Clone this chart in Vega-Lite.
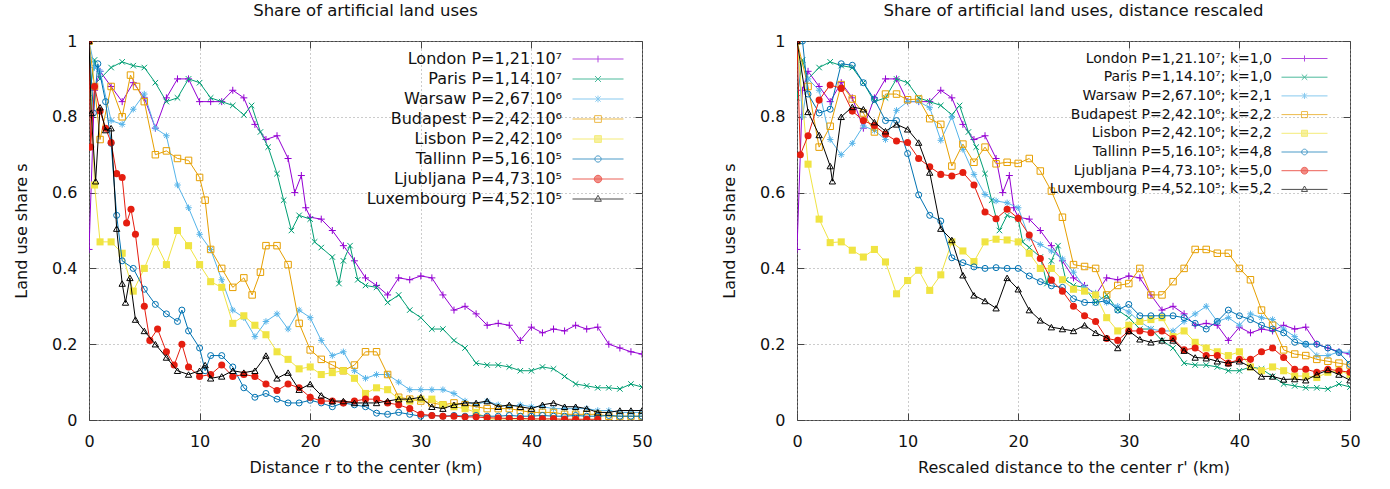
{
"$schema":"https://vega.github.io/schema/vega-lite/v6.json",
"padding":{"left":13,"top":2,"right":0,"bottom":0},
"spacing":68,
"datasets":{"d":[
{"p":"L","c":"Lon","x":0,"y":0.45},{"p":"L","c":"Lon","x":0.5,"y":0.87},{"p":"L","c":"Lon","x":1,"y":0.92},{"p":"L","c":"Lon","x":2,"y":0.88},{"p":"L","c":"Lon","x":3,"y":0.84},{"p":"L","c":"Lon","x":4,"y":0.89},{"p":"L","c":"Lon","x":5,"y":0.85},{"p":"L","c":"Lon","x":6,"y":0.77},{"p":"L","c":"Lon","x":7,"y":0.85},{"p":"L","c":"Lon","x":8,"y":0.9},{"p":"L","c":"Lon","x":9,"y":0.9},{"p":"L","c":"Lon","x":10,"y":0.84},{"p":"L","c":"Lon","x":11,"y":0.84},{"p":"L","c":"Lon","x":12,"y":0.84},{"p":"L","c":"Lon","x":13,"y":0.87},{"p":"L","c":"Lon","x":14,"y":0.85},{"p":"L","c":"Lon","x":15,"y":0.78},{"p":"L","c":"Lon","x":16,"y":0.74},{"p":"L","c":"Lon","x":17,"y":0.75},{"p":"L","c":"Lon","x":18,"y":0.69},{"p":"L","c":"Lon","x":18.6,"y":0.6},{"p":"L","c":"Lon","x":19.2,"y":0.645},{"p":"L","c":"Lon","x":19.6,"y":0.56},{"p":"L","c":"Lon","x":20,"y":0.535},{"p":"L","c":"Lon","x":21,"y":0.53},{"p":"L","c":"Lon","x":22,"y":0.5},{"p":"L","c":"Lon","x":23,"y":0.46},{"p":"L","c":"Lon","x":24,"y":0.42},{"p":"L","c":"Lon","x":25,"y":0.375},{"p":"L","c":"Lon","x":26,"y":0.355},{"p":"L","c":"Lon","x":27,"y":0.33},{"p":"L","c":"Lon","x":28,"y":0.375},{"p":"L","c":"Lon","x":29,"y":0.37},{"p":"L","c":"Lon","x":30,"y":0.38},{"p":"L","c":"Lon","x":31,"y":0.375},{"p":"L","c":"Lon","x":32,"y":0.33},{"p":"L","c":"Lon","x":33,"y":0.29},{"p":"L","c":"Lon","x":34,"y":0.3},{"p":"L","c":"Lon","x":35,"y":0.28},{"p":"L","c":"Lon","x":36,"y":0.25},{"p":"L","c":"Lon","x":37,"y":0.255},{"p":"L","c":"Lon","x":38,"y":0.25},{"p":"L","c":"Lon","x":39,"y":0.21},{"p":"L","c":"Lon","x":40,"y":0.245},{"p":"L","c":"Lon","x":41,"y":0.23},{"p":"L","c":"Lon","x":42,"y":0.24},{"p":"L","c":"Lon","x":43,"y":0.235},{"p":"L","c":"Lon","x":44,"y":0.25},{"p":"L","c":"Lon","x":45,"y":0.24},{"p":"L","c":"Lon","x":46,"y":0.245},{"p":"L","c":"Lon","x":47,"y":0.2},{"p":"L","c":"Lon","x":48,"y":0.19},{"p":"L","c":"Lon","x":49,"y":0.18},{"p":"L","c":"Lon","x":50,"y":0.174},
{"p":"L","c":"Par","x":0,"y":0.85},{"p":"L","c":"Par","x":0.5,"y":0.95},{"p":"L","c":"Par","x":1,"y":0.9},{"p":"L","c":"Par","x":2,"y":0.93},{"p":"L","c":"Par","x":3,"y":0.945},{"p":"L","c":"Par","x":4,"y":0.935},{"p":"L","c":"Par","x":5,"y":0.93},{"p":"L","c":"Par","x":6,"y":0.89},{"p":"L","c":"Par","x":7,"y":0.84},{"p":"L","c":"Par","x":8,"y":0.85},{"p":"L","c":"Par","x":9,"y":0.9},{"p":"L","c":"Par","x":10,"y":0.89},{"p":"L","c":"Par","x":11,"y":0.85},{"p":"L","c":"Par","x":12,"y":0.84},{"p":"L","c":"Par","x":13,"y":0.83},{"p":"L","c":"Par","x":14,"y":0.805},{"p":"L","c":"Par","x":14.7,"y":0.83},{"p":"L","c":"Par","x":15.5,"y":0.76},{"p":"L","c":"Par","x":16.2,"y":0.72},{"p":"L","c":"Par","x":17,"y":0.65},{"p":"L","c":"Par","x":17.6,"y":0.58},{"p":"L","c":"Par","x":18.3,"y":0.5},{"p":"L","c":"Par","x":19,"y":0.54},{"p":"L","c":"Par","x":20,"y":0.53},{"p":"L","c":"Par","x":20.4,"y":0.47},{"p":"L","c":"Par","x":21,"y":0.455},{"p":"L","c":"Par","x":22,"y":0.43},{"p":"L","c":"Par","x":22.6,"y":0.36},{"p":"L","c":"Par","x":23,"y":0.42},{"p":"L","c":"Par","x":23.6,"y":0.46},{"p":"L","c":"Par","x":24.3,"y":0.37},{"p":"L","c":"Par","x":25,"y":0.355},{"p":"L","c":"Par","x":26,"y":0.35},{"p":"L","c":"Par","x":27,"y":0.31},{"p":"L","c":"Par","x":28,"y":0.33},{"p":"L","c":"Par","x":29,"y":0.29},{"p":"L","c":"Par","x":30,"y":0.27},{"p":"L","c":"Par","x":31,"y":0.24},{"p":"L","c":"Par","x":32,"y":0.24},{"p":"L","c":"Par","x":33,"y":0.21},{"p":"L","c":"Par","x":34,"y":0.19},{"p":"L","c":"Par","x":35,"y":0.15},{"p":"L","c":"Par","x":36,"y":0.145},{"p":"L","c":"Par","x":37,"y":0.145},{"p":"L","c":"Par","x":38,"y":0.14},{"p":"L","c":"Par","x":39,"y":0.13},{"p":"L","c":"Par","x":40,"y":0.13},{"p":"L","c":"Par","x":41,"y":0.14},{"p":"L","c":"Par","x":42,"y":0.135},{"p":"L","c":"Par","x":43,"y":0.115},{"p":"L","c":"Par","x":44,"y":0.095},{"p":"L","c":"Par","x":45,"y":0.09},{"p":"L","c":"Par","x":46,"y":0.085},{"p":"L","c":"Par","x":47,"y":0.085},{"p":"L","c":"Par","x":48,"y":0.082},{"p":"L","c":"Par","x":49,"y":0.095},{"p":"L","c":"Par","x":50,"y":0.087},
{"p":"L","c":"War","x":0,"y":1},{"p":"L","c":"War","x":0.5,"y":0.93},{"p":"L","c":"War","x":1,"y":0.92},{"p":"L","c":"War","x":2,"y":0.79},{"p":"L","c":"War","x":3,"y":0.78},{"p":"L","c":"War","x":4,"y":0.82},{"p":"L","c":"War","x":5,"y":0.86},{"p":"L","c":"War","x":6,"y":0.77},{"p":"L","c":"War","x":7,"y":0.75},{"p":"L","c":"War","x":8,"y":0.62},{"p":"L","c":"War","x":9,"y":0.56},{"p":"L","c":"War","x":10,"y":0.49},{"p":"L","c":"War","x":11,"y":0.45},{"p":"L","c":"War","x":12,"y":0.37},{"p":"L","c":"War","x":13,"y":0.29},{"p":"L","c":"War","x":14,"y":0.27},{"p":"L","c":"War","x":15,"y":0.22},{"p":"L","c":"War","x":16,"y":0.26},{"p":"L","c":"War","x":17,"y":0.28},{"p":"L","c":"War","x":18,"y":0.24},{"p":"L","c":"War","x":19,"y":0.29},{"p":"L","c":"War","x":20,"y":0.27},{"p":"L","c":"War","x":21,"y":0.21},{"p":"L","c":"War","x":22,"y":0.17},{"p":"L","c":"War","x":23,"y":0.18},{"p":"L","c":"War","x":24,"y":0.13},{"p":"L","c":"War","x":25,"y":0.11},{"p":"L","c":"War","x":26,"y":0.12},{"p":"L","c":"War","x":27,"y":0.12},{"p":"L","c":"War","x":28,"y":0.1},{"p":"L","c":"War","x":29,"y":0.08},{"p":"L","c":"War","x":30,"y":0.08},{"p":"L","c":"War","x":31,"y":0.08},{"p":"L","c":"War","x":32,"y":0.08},{"p":"L","c":"War","x":33,"y":0.07},{"p":"L","c":"War","x":34,"y":0.05},{"p":"L","c":"War","x":35,"y":0.04},{"p":"L","c":"War","x":36,"y":0.05},{"p":"L","c":"War","x":37,"y":0.04},{"p":"L","c":"War","x":38,"y":0.035},{"p":"L","c":"War","x":39,"y":0.04},{"p":"L","c":"War","x":40,"y":0.035},{"p":"L","c":"War","x":41,"y":0.035},{"p":"L","c":"War","x":42,"y":0.03},{"p":"L","c":"War","x":43,"y":0.03},{"p":"L","c":"War","x":44,"y":0.03},{"p":"L","c":"War","x":45,"y":0.03},{"p":"L","c":"War","x":46,"y":0.025},{"p":"L","c":"War","x":47,"y":0.025},{"p":"L","c":"War","x":48,"y":0.02},{"p":"L","c":"War","x":49,"y":0.02},{"p":"L","c":"War","x":50,"y":0.02},
{"p":"L","c":"Bud","x":0,"y":1},{"p":"L","c":"Bud","x":0.5,"y":0.88},{"p":"L","c":"Bud","x":1,"y":0.74},{"p":"L","c":"Bud","x":2,"y":0.88},{"p":"L","c":"Bud","x":3,"y":0.8},{"p":"L","c":"Bud","x":3.75,"y":0.91},{"p":"L","c":"Bud","x":4.3,"y":0.88},{"p":"L","c":"Bud","x":5,"y":0.84},{"p":"L","c":"Bud","x":6,"y":0.7},{"p":"L","c":"Bud","x":7,"y":0.71},{"p":"L","c":"Bud","x":8,"y":0.69},{"p":"L","c":"Bud","x":9,"y":0.685},{"p":"L","c":"Bud","x":10,"y":0.64},{"p":"L","c":"Bud","x":10.5,"y":0.58},{"p":"L","c":"Bud","x":11,"y":0.45},{"p":"L","c":"Bud","x":12,"y":0.4},{"p":"L","c":"Bud","x":13,"y":0.35},{"p":"L","c":"Bud","x":14,"y":0.375},{"p":"L","c":"Bud","x":14.75,"y":0.33},{"p":"L","c":"Bud","x":15.5,"y":0.39},{"p":"L","c":"Bud","x":16,"y":0.46},{"p":"L","c":"Bud","x":17,"y":0.46},{"p":"L","c":"Bud","x":18,"y":0.41},{"p":"L","c":"Bud","x":19,"y":0.255},{"p":"L","c":"Bud","x":20,"y":0.185},{"p":"L","c":"Bud","x":21,"y":0.16},{"p":"L","c":"Bud","x":22,"y":0.145},{"p":"L","c":"Bud","x":23,"y":0.13},{"p":"L","c":"Bud","x":24,"y":0.145},{"p":"L","c":"Bud","x":25,"y":0.18},{"p":"L","c":"Bud","x":26,"y":0.18},{"p":"L","c":"Bud","x":27,"y":0.12},{"p":"L","c":"Bud","x":28,"y":0.06},{"p":"L","c":"Bud","x":29,"y":0.055},{"p":"L","c":"Bud","x":30,"y":0.05},{"p":"L","c":"Bud","x":31,"y":0.045},{"p":"L","c":"Bud","x":32,"y":0.04},{"p":"L","c":"Bud","x":33,"y":0.045},{"p":"L","c":"Bud","x":34,"y":0.04},{"p":"L","c":"Bud","x":35,"y":0.035},{"p":"L","c":"Bud","x":36,"y":0.03},{"p":"L","c":"Bud","x":37,"y":0.03},{"p":"L","c":"Bud","x":38,"y":0.03},{"p":"L","c":"Bud","x":39,"y":0.025},{"p":"L","c":"Bud","x":40,"y":0.02},{"p":"L","c":"Bud","x":41,"y":0.02},{"p":"L","c":"Bud","x":42,"y":0.02},{"p":"L","c":"Bud","x":43,"y":0.015},{"p":"L","c":"Bud","x":44,"y":0.015},{"p":"L","c":"Bud","x":45,"y":0.015},{"p":"L","c":"Bud","x":46,"y":0.015},{"p":"L","c":"Bud","x":47,"y":0.01},{"p":"L","c":"Bud","x":48,"y":0.01},{"p":"L","c":"Bud","x":49,"y":0.01},{"p":"L","c":"Bud","x":50,"y":0.01},
{"p":"L","c":"Lis","x":0,"y":1},{"p":"L","c":"Lis","x":0.5,"y":0.62},{"p":"L","c":"Lis","x":1,"y":0.47},{"p":"L","c":"Lis","x":2,"y":0.47},{"p":"L","c":"Lis","x":3,"y":0.44},{"p":"L","c":"Lis","x":4,"y":0.34},{"p":"L","c":"Lis","x":5,"y":0.4},{"p":"L","c":"Lis","x":6,"y":0.47},{"p":"L","c":"Lis","x":7,"y":0.41},{"p":"L","c":"Lis","x":8,"y":0.5},{"p":"L","c":"Lis","x":9,"y":0.46},{"p":"L","c":"Lis","x":10,"y":0.41},{"p":"L","c":"Lis","x":11,"y":0.365},{"p":"L","c":"Lis","x":12,"y":0.35},{"p":"L","c":"Lis","x":13,"y":0.255},{"p":"L","c":"Lis","x":14,"y":0.275},{"p":"L","c":"Lis","x":15,"y":0.25},{"p":"L","c":"Lis","x":16,"y":0.225},{"p":"L","c":"Lis","x":17,"y":0.18},{"p":"L","c":"Lis","x":18,"y":0.16},{"p":"L","c":"Lis","x":19,"y":0.135},{"p":"L","c":"Lis","x":20,"y":0.14},{"p":"L","c":"Lis","x":21,"y":0.12},{"p":"L","c":"Lis","x":22,"y":0.125},{"p":"L","c":"Lis","x":23,"y":0.13},{"p":"L","c":"Lis","x":24,"y":0.11},{"p":"L","c":"Lis","x":25,"y":0.07},{"p":"L","c":"Lis","x":26,"y":0.085},{"p":"L","c":"Lis","x":27,"y":0.08},{"p":"L","c":"Lis","x":28,"y":0.055},{"p":"L","c":"Lis","x":29,"y":0.05},{"p":"L","c":"Lis","x":30,"y":0.055},{"p":"L","c":"Lis","x":31,"y":0.055},{"p":"L","c":"Lis","x":32,"y":0.04},{"p":"L","c":"Lis","x":33,"y":0.035},{"p":"L","c":"Lis","x":34,"y":0.03},{"p":"L","c":"Lis","x":35,"y":0.02},{"p":"L","c":"Lis","x":36,"y":0.005},{"p":"L","c":"Lis","x":37,"y":0},{"p":"L","c":"Lis","x":38,"y":0},{"p":"L","c":"Lis","x":39,"y":0},{"p":"L","c":"Lis","x":40,"y":0},{"p":"L","c":"Lis","x":41,"y":0},{"p":"L","c":"Lis","x":42,"y":0},{"p":"L","c":"Lis","x":43,"y":0},{"p":"L","c":"Lis","x":44,"y":0},{"p":"L","c":"Lis","x":45,"y":0},{"p":"L","c":"Lis","x":46,"y":0},
{"p":"L","c":"Tal","x":0,"y":1},{"p":"L","c":"Tal","x":0.4,"y":0.81},{"p":"L","c":"Tal","x":0.8,"y":0.94},{"p":"L","c":"Tal","x":1.5,"y":0.84},{"p":"L","c":"Tal","x":2,"y":0.73},{"p":"L","c":"Tal","x":2.5,"y":0.54},{"p":"L","c":"Tal","x":3,"y":0.42},{"p":"L","c":"Tal","x":4,"y":0.4},{"p":"L","c":"Tal","x":5,"y":0.345},{"p":"L","c":"Tal","x":6,"y":0.305},{"p":"L","c":"Tal","x":7,"y":0.28},{"p":"L","c":"Tal","x":8,"y":0.26},{"p":"L","c":"Tal","x":8.4,"y":0.29},{"p":"L","c":"Tal","x":9,"y":0.235},{"p":"L","c":"Tal","x":10,"y":0.19},{"p":"L","c":"Tal","x":10.5,"y":0.13},{"p":"L","c":"Tal","x":11,"y":0.17},{"p":"L","c":"Tal","x":12,"y":0.17},{"p":"L","c":"Tal","x":13,"y":0.14},{"p":"L","c":"Tal","x":14,"y":0.085},{"p":"L","c":"Tal","x":15,"y":0.06},{"p":"L","c":"Tal","x":16,"y":0.07},{"p":"L","c":"Tal","x":17,"y":0.055},{"p":"L","c":"Tal","x":18,"y":0.045},{"p":"L","c":"Tal","x":19,"y":0.045},{"p":"L","c":"Tal","x":20,"y":0.052},{"p":"L","c":"Tal","x":21,"y":0.045},{"p":"L","c":"Tal","x":22,"y":0.035},{"p":"L","c":"Tal","x":23,"y":0.045},{"p":"L","c":"Tal","x":24,"y":0.04},{"p":"L","c":"Tal","x":25,"y":0.035},{"p":"L","c":"Tal","x":26,"y":0.018},{"p":"L","c":"Tal","x":27,"y":0.015},{"p":"L","c":"Tal","x":28,"y":0.02},{"p":"L","c":"Tal","x":29,"y":0.015},{"p":"L","c":"Tal","x":30,"y":0.01},{"p":"L","c":"Tal","x":31,"y":0.012},{"p":"L","c":"Tal","x":32,"y":0.01},{"p":"L","c":"Tal","x":33,"y":0.012},{"p":"L","c":"Tal","x":34,"y":0.01},{"p":"L","c":"Tal","x":35,"y":0.012},{"p":"L","c":"Tal","x":36,"y":0.01},{"p":"L","c":"Tal","x":37,"y":0.01},{"p":"L","c":"Tal","x":38,"y":0.012},{"p":"L","c":"Tal","x":39,"y":0.01},{"p":"L","c":"Tal","x":40,"y":0.01},{"p":"L","c":"Tal","x":41,"y":0.012},{"p":"L","c":"Tal","x":42,"y":0.01},{"p":"L","c":"Tal","x":43,"y":0.01},{"p":"L","c":"Tal","x":44,"y":0.012},{"p":"L","c":"Tal","x":45,"y":0.01},{"p":"L","c":"Tal","x":46,"y":0.01},{"p":"L","c":"Tal","x":47,"y":0.012},{"p":"L","c":"Tal","x":48,"y":0.01},{"p":"L","c":"Tal","x":49,"y":0.01},{"p":"L","c":"Tal","x":50,"y":0.01},
{"p":"L","c":"Lju","x":0,"y":1},{"p":"L","c":"Lju","x":0.15,"y":0.72},{"p":"L","c":"Lju","x":0.5,"y":0.88},{"p":"L","c":"Lju","x":1,"y":0.815},{"p":"L","c":"Lju","x":1.5,"y":0.77},{"p":"L","c":"Lju","x":2,"y":0.732},{"p":"L","c":"Lju","x":2.5,"y":0.65},{"p":"L","c":"Lju","x":3,"y":0.64},{"p":"L","c":"Lju","x":3.4,"y":0.52},{"p":"L","c":"Lju","x":3.8,"y":0.556},{"p":"L","c":"Lju","x":4.2,"y":0.49},{"p":"L","c":"Lju","x":5,"y":0.3},{"p":"L","c":"Lju","x":5.5,"y":0.21},{"p":"L","c":"Lju","x":6.2,"y":0.24},{"p":"L","c":"Lju","x":7,"y":0.18},{"p":"L","c":"Lju","x":7.7,"y":0.145},{"p":"L","c":"Lju","x":8.4,"y":0.2},{"p":"L","c":"Lju","x":9,"y":0.14},{"p":"L","c":"Lju","x":10,"y":0.115},{"p":"L","c":"Lju","x":11,"y":0.12},{"p":"L","c":"Lju","x":12,"y":0.145},{"p":"L","c":"Lju","x":13,"y":0.115},{"p":"L","c":"Lju","x":14,"y":0.12},{"p":"L","c":"Lju","x":15,"y":0.115},{"p":"L","c":"Lju","x":16,"y":0.095},{"p":"L","c":"Lju","x":17,"y":0.078},{"p":"L","c":"Lju","x":18,"y":0.095},{"p":"L","c":"Lju","x":19,"y":0.085},{"p":"L","c":"Lju","x":20,"y":0.06},{"p":"L","c":"Lju","x":21,"y":0.05},{"p":"L","c":"Lju","x":22,"y":0.05},{"p":"L","c":"Lju","x":23,"y":0.045},{"p":"L","c":"Lju","x":24,"y":0.05},{"p":"L","c":"Lju","x":25,"y":0.055},{"p":"L","c":"Lju","x":26,"y":0.055},{"p":"L","c":"Lju","x":27,"y":0.045},{"p":"L","c":"Lju","x":28,"y":0.04},{"p":"L","c":"Lju","x":29,"y":0.03},{"p":"L","c":"Lju","x":30,"y":0.015},{"p":"L","c":"Lju","x":31,"y":0.012},{"p":"L","c":"Lju","x":32,"y":0.01},{"p":"L","c":"Lju","x":33,"y":0.01},{"p":"L","c":"Lju","x":34,"y":0.008},{"p":"L","c":"Lju","x":35,"y":0.008},{"p":"L","c":"Lju","x":36,"y":0.006},{"p":"L","c":"Lju","x":37,"y":0.005},{"p":"L","c":"Lju","x":38,"y":0.004},{"p":"L","c":"Lju","x":39,"y":0.004},{"p":"L","c":"Lju","x":40,"y":0.003},{"p":"L","c":"Lju","x":41,"y":0.003},{"p":"L","c":"Lju","x":42,"y":0.003},{"p":"L","c":"Lju","x":43,"y":0.002},{"p":"L","c":"Lju","x":44,"y":0.002},{"p":"L","c":"Lju","x":45,"y":0.002},{"p":"L","c":"Lju","x":46,"y":0.002},
{"p":"L","c":"Lux","x":0,"y":1},{"p":"L","c":"Lux","x":0.2,"y":0.81},{"p":"L","c":"Lux","x":0.6,"y":0.63},{"p":"L","c":"Lux","x":1,"y":0.825},{"p":"L","c":"Lux","x":1.5,"y":0.765},{"p":"L","c":"Lux","x":2,"y":0.77},{"p":"L","c":"Lux","x":2.5,"y":0.505},{"p":"L","c":"Lux","x":3,"y":0.36},{"p":"L","c":"Lux","x":3.3,"y":0.31},{"p":"L","c":"Lux","x":3.7,"y":0.375},{"p":"L","c":"Lux","x":4.2,"y":0.265},{"p":"L","c":"Lux","x":5,"y":0.235},{"p":"L","c":"Lux","x":6,"y":0.2},{"p":"L","c":"Lux","x":7,"y":0.165},{"p":"L","c":"Lux","x":8,"y":0.13},{"p":"L","c":"Lux","x":9,"y":0.12},{"p":"L","c":"Lux","x":10,"y":0.13},{"p":"L","c":"Lux","x":10.5,"y":0.145},{"p":"L","c":"Lux","x":11,"y":0.11},{"p":"L","c":"Lux","x":12,"y":0.115},{"p":"L","c":"Lux","x":13,"y":0.13},{"p":"L","c":"Lux","x":14,"y":0.125},{"p":"L","c":"Lux","x":15,"y":0.13},{"p":"L","c":"Lux","x":16,"y":0.17},{"p":"L","c":"Lux","x":17,"y":0.11},{"p":"L","c":"Lux","x":18,"y":0.125},{"p":"L","c":"Lux","x":19,"y":0.08},{"p":"L","c":"Lux","x":20,"y":0.095},{"p":"L","c":"Lux","x":21,"y":0.065},{"p":"L","c":"Lux","x":22,"y":0.05},{"p":"L","c":"Lux","x":23,"y":0.05},{"p":"L","c":"Lux","x":24,"y":0.045},{"p":"L","c":"Lux","x":25,"y":0.045},{"p":"L","c":"Lux","x":26,"y":0.045},{"p":"L","c":"Lux","x":27,"y":0.05},{"p":"L","c":"Lux","x":28,"y":0.055},{"p":"L","c":"Lux","x":29,"y":0.055},{"p":"L","c":"Lux","x":30,"y":0.06},{"p":"L","c":"Lux","x":31,"y":0.035},{"p":"L","c":"Lux","x":32,"y":0.03},{"p":"L","c":"Lux","x":33,"y":0.04},{"p":"L","c":"Lux","x":34,"y":0.045},{"p":"L","c":"Lux","x":35,"y":0.045},{"p":"L","c":"Lux","x":36,"y":0.05},{"p":"L","c":"Lux","x":37,"y":0.035},{"p":"L","c":"Lux","x":38,"y":0.04},{"p":"L","c":"Lux","x":39,"y":0.035},{"p":"L","c":"Lux","x":40,"y":0.03},{"p":"L","c":"Lux","x":41,"y":0.04},{"p":"L","c":"Lux","x":42,"y":0.045},{"p":"L","c":"Lux","x":43,"y":0.035},{"p":"L","c":"Lux","x":44,"y":0.035},{"p":"L","c":"Lux","x":45,"y":0.03},{"p":"L","c":"Lux","x":46,"y":0.02},{"p":"L","c":"Lux","x":47,"y":0.02},{"p":"L","c":"Lux","x":48,"y":0.025},{"p":"L","c":"Lux","x":49,"y":0.025},{"p":"L","c":"Lux","x":50,"y":0.025},
{"p":"R","c":"War","x":0,"y":1},{"p":"R","c":"War","x":0.5,"y":0.8},{"p":"R","c":"War","x":1,"y":0.9},{"p":"R","c":"War","x":2,"y":0.87},{"p":"R","c":"War","x":3,"y":0.74},{"p":"R","c":"War","x":4,"y":0.7},{"p":"R","c":"War","x":5,"y":0.73},{"p":"R","c":"War","x":6,"y":0.776},{"p":"R","c":"War","x":7,"y":0.764},{"p":"R","c":"War","x":8,"y":0.74},{"p":"R","c":"War","x":9,"y":0.817},{"p":"R","c":"War","x":10,"y":0.84},{"p":"R","c":"War","x":11,"y":0.84},{"p":"R","c":"War","x":12,"y":0.824},{"p":"R","c":"War","x":13,"y":0.738},{"p":"R","c":"War","x":14,"y":0.8},{"p":"R","c":"War","x":15,"y":0.714},{"p":"R","c":"War","x":16,"y":0.648},{"p":"R","c":"War","x":17,"y":0.595},{"p":"R","c":"War","x":18,"y":0.578},{"p":"R","c":"War","x":19,"y":0.573},{"p":"R","c":"War","x":20,"y":0.56},{"p":"R","c":"War","x":21,"y":0.48},{"p":"R","c":"War","x":22,"y":0.463},{"p":"R","c":"War","x":23,"y":0.446},{"p":"R","c":"War","x":24,"y":0.425},{"p":"R","c":"War","x":25,"y":0.39},{"p":"R","c":"War","x":26,"y":0.35},{"p":"R","c":"War","x":27,"y":0.335},{"p":"R","c":"War","x":28,"y":0.31},{"p":"R","c":"War","x":29,"y":0.3},{"p":"R","c":"War","x":30,"y":0.285},{"p":"R","c":"War","x":31,"y":0.26},{"p":"R","c":"War","x":32,"y":0.24},{"p":"R","c":"War","x":33,"y":0.235},{"p":"R","c":"War","x":34,"y":0.235},{"p":"R","c":"War","x":35,"y":0.26},{"p":"R","c":"War","x":36,"y":0.28},{"p":"R","c":"War","x":37,"y":0.3},{"p":"R","c":"War","x":38,"y":0.26},{"p":"R","c":"War","x":39,"y":0.27},{"p":"R","c":"War","x":40,"y":0.25},{"p":"R","c":"War","x":41,"y":0.28},{"p":"R","c":"War","x":42,"y":0.27},{"p":"R","c":"War","x":43,"y":0.265},{"p":"R","c":"War","x":44,"y":0.24},{"p":"R","c":"War","x":45,"y":0.22},{"p":"R","c":"War","x":46,"y":0.2},{"p":"R","c":"War","x":47,"y":0.17},{"p":"R","c":"War","x":48,"y":0.17},{"p":"R","c":"War","x":49,"y":0.18},{"p":"R","c":"War","x":50,"y":0.178},
{"p":"R","c":"Bud","x":0,"y":1},{"p":"R","c":"Bud","x":1,"y":0.88},{"p":"R","c":"Bud","x":2,"y":0.72},{"p":"R","c":"Bud","x":3,"y":0.775},{"p":"R","c":"Bud","x":4,"y":0.885},{"p":"R","c":"Bud","x":5,"y":0.847},{"p":"R","c":"Bud","x":6,"y":0.81},{"p":"R","c":"Bud","x":7,"y":0.76},{"p":"R","c":"Bud","x":8,"y":0.86},{"p":"R","c":"Bud","x":9,"y":0.86},{"p":"R","c":"Bud","x":10,"y":0.845},{"p":"R","c":"Bud","x":11,"y":0.847},{"p":"R","c":"Bud","x":12,"y":0.795},{"p":"R","c":"Bud","x":13,"y":0.78},{"p":"R","c":"Bud","x":14,"y":0.67},{"p":"R","c":"Bud","x":15,"y":0.728},{"p":"R","c":"Bud","x":16,"y":0.68},{"p":"R","c":"Bud","x":17,"y":0.72},{"p":"R","c":"Bud","x":18,"y":0.676},{"p":"R","c":"Bud","x":19,"y":0.68},{"p":"R","c":"Bud","x":20,"y":0.677},{"p":"R","c":"Bud","x":21,"y":0.69},{"p":"R","c":"Bud","x":22,"y":0.657},{"p":"R","c":"Bud","x":23,"y":0.604},{"p":"R","c":"Bud","x":24,"y":0.535},{"p":"R","c":"Bud","x":25,"y":0.41},{"p":"R","c":"Bud","x":26,"y":0.405},{"p":"R","c":"Bud","x":27,"y":0.4},{"p":"R","c":"Bud","x":28,"y":0.33},{"p":"R","c":"Bud","x":29,"y":0.355},{"p":"R","c":"Bud","x":30,"y":0.36},{"p":"R","c":"Bud","x":31,"y":0.4},{"p":"R","c":"Bud","x":32,"y":0.33},{"p":"R","c":"Bud","x":33,"y":0.33},{"p":"R","c":"Bud","x":34,"y":0.365},{"p":"R","c":"Bud","x":35,"y":0.4},{"p":"R","c":"Bud","x":36,"y":0.45},{"p":"R","c":"Bud","x":37,"y":0.45},{"p":"R","c":"Bud","x":38,"y":0.44},{"p":"R","c":"Bud","x":39,"y":0.44},{"p":"R","c":"Bud","x":40,"y":0.4},{"p":"R","c":"Bud","x":41,"y":0.37},{"p":"R","c":"Bud","x":42,"y":0.29},{"p":"R","c":"Bud","x":43,"y":0.25},{"p":"R","c":"Bud","x":44,"y":0.185},{"p":"R","c":"Bud","x":45,"y":0.174},{"p":"R","c":"Bud","x":46,"y":0.17},{"p":"R","c":"Bud","x":47,"y":0.16},{"p":"R","c":"Bud","x":48,"y":0.155},{"p":"R","c":"Bud","x":49,"y":0.15},{"p":"R","c":"Bud","x":50,"y":0.145},
{"p":"R","c":"Lis","x":0,"y":1},{"p":"R","c":"Lis","x":1,"y":0.675},{"p":"R","c":"Lis","x":2,"y":0.53},{"p":"R","c":"Lis","x":3,"y":0.468},{"p":"R","c":"Lis","x":4,"y":0.47},{"p":"R","c":"Lis","x":5,"y":0.448},{"p":"R","c":"Lis","x":6,"y":0.43},{"p":"R","c":"Lis","x":7,"y":0.45},{"p":"R","c":"Lis","x":8,"y":0.417},{"p":"R","c":"Lis","x":9,"y":0.333},{"p":"R","c":"Lis","x":10,"y":0.368},{"p":"R","c":"Lis","x":11,"y":0.395},{"p":"R","c":"Lis","x":12,"y":0.342},{"p":"R","c":"Lis","x":13,"y":0.383},{"p":"R","c":"Lis","x":14,"y":0.47},{"p":"R","c":"Lis","x":15,"y":0.446},{"p":"R","c":"Lis","x":16,"y":0.418},{"p":"R","c":"Lis","x":17,"y":0.47},{"p":"R","c":"Lis","x":18,"y":0.477},{"p":"R","c":"Lis","x":19,"y":0.475},{"p":"R","c":"Lis","x":20,"y":0.47},{"p":"R","c":"Lis","x":21,"y":0.44},{"p":"R","c":"Lis","x":22,"y":0.4},{"p":"R","c":"Lis","x":23,"y":0.4},{"p":"R","c":"Lis","x":24,"y":0.37},{"p":"R","c":"Lis","x":25,"y":0.345},{"p":"R","c":"Lis","x":26,"y":0.34},{"p":"R","c":"Lis","x":27,"y":0.33},{"p":"R","c":"Lis","x":28,"y":0.27},{"p":"R","c":"Lis","x":29,"y":0.235},{"p":"R","c":"Lis","x":30,"y":0.25},{"p":"R","c":"Lis","x":31,"y":0.26},{"p":"R","c":"Lis","x":32,"y":0.265},{"p":"R","c":"Lis","x":33,"y":0.27},{"p":"R","c":"Lis","x":34,"y":0.22},{"p":"R","c":"Lis","x":35,"y":0.235},{"p":"R","c":"Lis","x":36,"y":0.205},{"p":"R","c":"Lis","x":37,"y":0.19},{"p":"R","c":"Lis","x":38,"y":0.18},{"p":"R","c":"Lis","x":39,"y":0.17},{"p":"R","c":"Lis","x":40,"y":0.18},{"p":"R","c":"Lis","x":41,"y":0.14},{"p":"R","c":"Lis","x":42,"y":0.13},{"p":"R","c":"Lis","x":43,"y":0.14},{"p":"R","c":"Lis","x":44,"y":0.13},{"p":"R","c":"Lis","x":45,"y":0.116},{"p":"R","c":"Lis","x":46,"y":0.116},{"p":"R","c":"Lis","x":47,"y":0.112},{"p":"R","c":"Lis","x":48,"y":0.126},{"p":"R","c":"Lis","x":49,"y":0.13},{"p":"R","c":"Lis","x":50,"y":0.12},
{"p":"R","c":"Tal","x":0,"y":1},{"p":"R","c":"Tal","x":0.5,"y":1},{"p":"R","c":"Tal","x":1,"y":0.86},{"p":"R","c":"Tal","x":2,"y":0.81},{"p":"R","c":"Tal","x":3,"y":0.82},{"p":"R","c":"Tal","x":4,"y":0.94},{"p":"R","c":"Tal","x":5,"y":0.936},{"p":"R","c":"Tal","x":6,"y":0.89},{"p":"R","c":"Tal","x":7,"y":0.846},{"p":"R","c":"Tal","x":8,"y":0.79},{"p":"R","c":"Tal","x":9,"y":0.79},{"p":"R","c":"Tal","x":10,"y":0.703},{"p":"R","c":"Tal","x":11,"y":0.594},{"p":"R","c":"Tal","x":12,"y":0.54},{"p":"R","c":"Tal","x":13,"y":0.525},{"p":"R","c":"Tal","x":14,"y":0.428},{"p":"R","c":"Tal","x":15,"y":0.415},{"p":"R","c":"Tal","x":16,"y":0.404},{"p":"R","c":"Tal","x":17,"y":0.4},{"p":"R","c":"Tal","x":18,"y":0.402},{"p":"R","c":"Tal","x":19,"y":0.4},{"p":"R","c":"Tal","x":20,"y":0.4},{"p":"R","c":"Tal","x":21,"y":0.38},{"p":"R","c":"Tal","x":22,"y":0.365},{"p":"R","c":"Tal","x":23,"y":0.354},{"p":"R","c":"Tal","x":24,"y":0.35},{"p":"R","c":"Tal","x":25,"y":0.32},{"p":"R","c":"Tal","x":26,"y":0.31},{"p":"R","c":"Tal","x":27,"y":0.31},{"p":"R","c":"Tal","x":28,"y":0.315},{"p":"R","c":"Tal","x":29,"y":0.29},{"p":"R","c":"Tal","x":30,"y":0.305},{"p":"R","c":"Tal","x":31,"y":0.275},{"p":"R","c":"Tal","x":32,"y":0.275},{"p":"R","c":"Tal","x":33,"y":0.275},{"p":"R","c":"Tal","x":34,"y":0.275},{"p":"R","c":"Tal","x":35,"y":0.27},{"p":"R","c":"Tal","x":36,"y":0.255},{"p":"R","c":"Tal","x":37,"y":0.24},{"p":"R","c":"Tal","x":38,"y":0.26},{"p":"R","c":"Tal","x":39,"y":0.29},{"p":"R","c":"Tal","x":40,"y":0.275},{"p":"R","c":"Tal","x":41,"y":0.265},{"p":"R","c":"Tal","x":42,"y":0.25},{"p":"R","c":"Tal","x":43,"y":0.24},{"p":"R","c":"Tal","x":44,"y":0.23},{"p":"R","c":"Tal","x":45,"y":0.205},{"p":"R","c":"Tal","x":46,"y":0.2},{"p":"R","c":"Tal","x":47,"y":0.2},{"p":"R","c":"Tal","x":48,"y":0.19},{"p":"R","c":"Tal","x":49,"y":0.178},{"p":"R","c":"Tal","x":50,"y":0.147},
{"p":"R","c":"Lju","x":0,"y":1},{"p":"R","c":"Lju","x":0.3,"y":0.7},{"p":"R","c":"Lju","x":1,"y":0.75},{"p":"R","c":"Lju","x":2,"y":0.844},{"p":"R","c":"Lju","x":3,"y":0.884},{"p":"R","c":"Lju","x":4,"y":0.875},{"p":"R","c":"Lju","x":5,"y":0.815},{"p":"R","c":"Lju","x":6,"y":0.79},{"p":"R","c":"Lju","x":7,"y":0.777},{"p":"R","c":"Lju","x":8,"y":0.754},{"p":"R","c":"Lju","x":9,"y":0.736},{"p":"R","c":"Lju","x":10,"y":0.732},{"p":"R","c":"Lju","x":11,"y":0.69},{"p":"R","c":"Lju","x":12,"y":0.668},{"p":"R","c":"Lju","x":13,"y":0.648},{"p":"R","c":"Lju","x":14,"y":0.644},{"p":"R","c":"Lju","x":15,"y":0.653},{"p":"R","c":"Lju","x":16,"y":0.62},{"p":"R","c":"Lju","x":17,"y":0.549},{"p":"R","c":"Lju","x":18,"y":0.531},{"p":"R","c":"Lju","x":19,"y":0.556},{"p":"R","c":"Lju","x":20,"y":0.532},{"p":"R","c":"Lju","x":21,"y":0.488},{"p":"R","c":"Lju","x":22,"y":0.426},{"p":"R","c":"Lju","x":23,"y":0.369},{"p":"R","c":"Lju","x":24,"y":0.34},{"p":"R","c":"Lju","x":25,"y":0.3},{"p":"R","c":"Lju","x":26,"y":0.275},{"p":"R","c":"Lju","x":27,"y":0.26},{"p":"R","c":"Lju","x":28,"y":0.215},{"p":"R","c":"Lju","x":29,"y":0.21},{"p":"R","c":"Lju","x":30,"y":0.235},{"p":"R","c":"Lju","x":31,"y":0.235},{"p":"R","c":"Lju","x":32,"y":0.23},{"p":"R","c":"Lju","x":33,"y":0.235},{"p":"R","c":"Lju","x":34,"y":0.215},{"p":"R","c":"Lju","x":35,"y":0.185},{"p":"R","c":"Lju","x":36,"y":0.19},{"p":"R","c":"Lju","x":37,"y":0.17},{"p":"R","c":"Lju","x":38,"y":0.17},{"p":"R","c":"Lju","x":39,"y":0.15},{"p":"R","c":"Lju","x":40,"y":0.16},{"p":"R","c":"Lju","x":41,"y":0.16},{"p":"R","c":"Lju","x":42,"y":0.18},{"p":"R","c":"Lju","x":43,"y":0.19},{"p":"R","c":"Lju","x":44,"y":0.165},{"p":"R","c":"Lju","x":45,"y":0.134},{"p":"R","c":"Lju","x":46,"y":0.134},{"p":"R","c":"Lju","x":47,"y":0.126},{"p":"R","c":"Lju","x":48,"y":0.134},{"p":"R","c":"Lju","x":49,"y":0.13},{"p":"R","c":"Lju","x":50,"y":0.126},
{"p":"R","c":"Lux","x":0,"y":1},{"p":"R","c":"Lux","x":1,"y":0.813},{"p":"R","c":"Lux","x":2,"y":0.752},{"p":"R","c":"Lux","x":3,"y":0.67},{"p":"R","c":"Lux","x":3.2,"y":0.63},{"p":"R","c":"Lux","x":4,"y":0.8},{"p":"R","c":"Lux","x":5,"y":0.826},{"p":"R","c":"Lux","x":6,"y":0.82},{"p":"R","c":"Lux","x":7,"y":0.786},{"p":"R","c":"Lux","x":8,"y":0.762},{"p":"R","c":"Lux","x":9,"y":0.78},{"p":"R","c":"Lux","x":10,"y":0.767},{"p":"R","c":"Lux","x":11,"y":0.732},{"p":"R","c":"Lux","x":12,"y":0.653},{"p":"R","c":"Lux","x":13,"y":0.505},{"p":"R","c":"Lux","x":14,"y":0.475},{"p":"R","c":"Lux","x":15,"y":0.382},{"p":"R","c":"Lux","x":16,"y":0.329},{"p":"R","c":"Lux","x":17,"y":0.314},{"p":"R","c":"Lux","x":18,"y":0.295},{"p":"R","c":"Lux","x":19,"y":0.375},{"p":"R","c":"Lux","x":20,"y":0.345},{"p":"R","c":"Lux","x":21,"y":0.29},{"p":"R","c":"Lux","x":22,"y":0.263},{"p":"R","c":"Lux","x":23,"y":0.245},{"p":"R","c":"Lux","x":24,"y":0.24},{"p":"R","c":"Lux","x":25,"y":0.235},{"p":"R","c":"Lux","x":26,"y":0.25},{"p":"R","c":"Lux","x":27,"y":0.23},{"p":"R","c":"Lux","x":28,"y":0.217},{"p":"R","c":"Lux","x":29,"y":0.19},{"p":"R","c":"Lux","x":30,"y":0.235},{"p":"R","c":"Lux","x":31,"y":0.213},{"p":"R","c":"Lux","x":32,"y":0.205},{"p":"R","c":"Lux","x":33,"y":0.21},{"p":"R","c":"Lux","x":34,"y":0.21},{"p":"R","c":"Lux","x":35,"y":0.183},{"p":"R","c":"Lux","x":36,"y":0.165},{"p":"R","c":"Lux","x":37,"y":0.163},{"p":"R","c":"Lux","x":38,"y":0.155},{"p":"R","c":"Lux","x":39,"y":0.15},{"p":"R","c":"Lux","x":40,"y":0.155},{"p":"R","c":"Lux","x":41,"y":0.14},{"p":"R","c":"Lux","x":42,"y":0.115},{"p":"R","c":"Lux","x":43,"y":0.115},{"p":"R","c":"Lux","x":44,"y":0.107},{"p":"R","c":"Lux","x":45,"y":0.108},{"p":"R","c":"Lux","x":46,"y":0.105},{"p":"R","c":"Lux","x":47,"y":0.12},{"p":"R","c":"Lux","x":48,"y":0.132},{"p":"R","c":"Lux","x":49,"y":0.12},{"p":"R","c":"Lux","x":50,"y":0.105}
]},
"data":{"name":"d"},
"hconcat":[
{
"width":553,"height":379,
"title":{"text":"Share of artificial land uses","offset":14},
"transform":[{"filter":"datum.p=='L'"}],
"encoding":{
"x":{"field":"x","type":"quantitative","scale":{"domain":[0,50],"nice":false},"axis":null},
"y":{"field":"y","type":"quantitative","scale":{"domain":[0,1],"nice":false},"axis":null}
},
"layer":[
{"transform":[{"filter":"false"}],
"mark":{"type":"point","filled":false},
"encoding":{
"x":{"field":"x","type":"quantitative","scale":{"domain":[0,50],"nice":false},"axis":{"orient":"bottom","values":[0,10,20,30,40,50],"title":"Distance r to the center (km)","grid":true,"gridDash":[1,3],"gridColor":"#999","domain":false,"tickSize":-7,"tickColor":"#444","labelPadding":20,"titlePadding":10,"labelFlush":false}},
"y":{"field":"y","type":"quantitative","scale":{"domain":[0,1],"nice":false},"axis":{"orient":"left","values":[0,0.2,0.4,0.6,0.8,1],"format":"~g","title":"Land use share s","grid":true,"gridDash":[1,3],"gridColor":"#999","domain":false,"tickSize":-7,"tickColor":"#444","labelPadding":19,"titlePadding":22,"labelFlush":false}},
"stroke":{"field":"c","type":"nominal","scale":{"domain":["Lon","Par","War","Bud","Lis","Tal","Lju","Lux"],"range":["#9400D3","#009E73","#56B4E9","#E69F00","#F0E442","#0072B2","#E51E10","#000000"]},
"legend":{"title":null,"orient":"none","legendX":501,"legendY":10,"padding":0,"labelAlign":"right","labelOffset":-44,"labelFontSize":16,"labelLimit":400,"symbolSize":225,"symbolStrokeWidth":1,"rowPadding":4,
"labelExpr":"['London P=1,21.10\u2077','Paris P=1,14.10\u2077','Warsaw P=2,67.10\u2076','Budapest P=2,42.10\u2076','Lisbon P=2,42.10\u2076','Tallinn P=5,16.10\u2075','Ljubljana P=4,73.10\u2075','Luxembourg P=4,52.10\u2075'][indexof(['Lon','Par','War','Bud','Lis','Tal','Lju','Lux'],datum.label)]"}},
"fill":{"field":"c","type":"nominal","scale":{"domain":["Lon","Par","War","Bud","Lis","Tal","Lju","Lux"],"range":["transparent","transparent","transparent","transparent","#F0E442","transparent","#E51E10","transparent"]}},
"shape":{"field":"c","type":"nominal","scale":{"domain":["Lon","Par","War","Bud","Lis","Tal","Lju","Lux"],"range":["M-3.4,0H3.4M0,-0.45V0.45","M-3.4,0H3.4M-0.4,-0.4L0.4,0.4M-0.4,0.4L0.4,-0.4","M-3.4,0H3.4M0,-0.45V0.45M-0.35,-0.35L0.35,0.35M-0.35,0.35L0.35,-0.35","M-3.4,0H3.4M-0.45,-0.45H0.45V0.45H-0.45Z","M-3.4,0H3.4M-0.45,-0.45H0.45V0.45H-0.45Z","M-3.4,0H3.4M0.42,0A0.42,0.42,0,1,1,-0.42,0A0.42,0.42,0,1,1,0.42,0Z","M-3.4,0H3.4M0.5,0A0.5,0.5,0,1,1,-0.5,0A0.5,0.5,0,1,1,0.5,0Z","M-3.4,0H3.4M0,-0.5L0.45,0.3H-0.45Z"]}}
}},
{"transform":[{"filter":"datum.c=='Lon'"}],"mark":{"type":"line","color":"#9400D3","strokeWidth":1,"clip":true,"point":{"shape":"M-1,0H1M0,-1V1","size":49,"filled":false,"color":"#9400D3","strokeWidth":1}},
"encoding":{"x":{"field":"x","type":"quantitative","scale":{"domain":[0,50],"nice":false},"axis":{"orient":"top","values":[0,10,20,30,40,50],"labels":false,"title":null,"grid":false,"domain":false,"tickSize":-7,"tickColor":"#444"}},
"y":{"field":"y","type":"quantitative","scale":{"domain":[0,1],"nice":false},"axis":{"orient":"right","values":[0,0.2,0.4,0.6,0.8,1],"labels":false,"title":null,"grid":false,"domain":false,"tickSize":-7,"tickColor":"#444"}}}},
{"transform":[{"filter":"datum.c=='Par'"}],"mark":{"type":"line","color":"#009E73","strokeWidth":1,"clip":true,"point":{"shape":"M-1,-1L1,1M-1,1L1,-1","size":30,"filled":false,"color":"#009E73","strokeWidth":1}}},
{"transform":[{"filter":"datum.c=='War'"}],"mark":{"type":"line","color":"#56B4E9","strokeWidth":1,"clip":true,"point":{"shape":"M0,-1V1M-1,0H1M-0.7,-0.7L0.7,0.7M-0.7,0.7L0.7,-0.7","size":42,"filled":false,"color":"#56B4E9","strokeWidth":1}}},
{"transform":[{"filter":"datum.c=='Bud'"}],"mark":{"type":"line","color":"#E69F00","strokeWidth":1,"clip":true,"point":{"shape":"square","size":42,"filled":false,"color":"#E69F00","strokeWidth":1}}},
{"transform":[{"filter":"datum.c=='Lis'"}],"mark":{"type":"line","color":"#F0E442","strokeWidth":1,"clip":true,"point":{"shape":"square","size":50,"filled":true,"color":"#F0E442","opacity":1}}},
{"transform":[{"filter":"datum.c=='Tal'"}],"mark":{"type":"line","color":"#0072B2","strokeWidth":1,"clip":true,"point":{"shape":"circle","size":36,"filled":false,"color":"#0072B2","strokeWidth":1}}},
{"transform":[{"filter":"datum.c=='Lju'"}],"mark":{"type":"line","color":"#E51E10","strokeWidth":1,"clip":true,"point":{"shape":"circle","size":50,"filled":true,"color":"#E51E10","opacity":1}}},
{"transform":[{"filter":"datum.c=='Lux'"}],"mark":{"type":"line","color":"#000000","strokeWidth":1,"clip":true,"point":{"shape":"triangle-up","size":40,"filled":false,"color":"#000000","strokeWidth":1}}}
],
"resolve":{"axis":{"x":"independent","y":"independent"}}
},
{
"width":553,"height":379,
"title":{"text":"Share of artificial land uses, distance rescaled","offset":14},
"transform":[{"filter":"datum.p=='R' || datum.c=='Lon' || datum.c=='Par'"}],
"encoding":{
"x":{"field":"x","type":"quantitative","scale":{"domain":[0,50],"nice":false},"axis":null},
"y":{"field":"y","type":"quantitative","scale":{"domain":[0,1],"nice":false},"axis":null}
},
"layer":[
{"transform":[{"filter":"false"}],
"mark":{"type":"point","filled":false},
"encoding":{
"x":{"field":"x","type":"quantitative","scale":{"domain":[0,50],"nice":false},"axis":{"orient":"bottom","values":[0,10,20,30,40,50],"title":"Rescaled distance to the center r' (km)","grid":true,"gridDash":[1,3],"gridColor":"#999","domain":false,"tickSize":-7,"tickColor":"#444","labelPadding":20,"titlePadding":10,"labelFlush":false}},
"y":{"field":"y","type":"quantitative","scale":{"domain":[0,1],"nice":false},"axis":{"orient":"left","values":[0,0.2,0.4,0.6,0.8,1],"format":"~g","title":"Land use share s","grid":true,"gridDash":[1,3],"gridColor":"#999","domain":false,"tickSize":-7,"tickColor":"#444","labelPadding":19,"titlePadding":22,"labelFlush":false}},
"stroke":{"field":"c","type":"nominal","scale":{"domain":["Lon","Par","War","Bud","Lis","Tal","Lju","Lux"],"range":["#9400D3","#009E73","#56B4E9","#E69F00","#F0E442","#0072B2","#E51E10","#000000"]},
"legend":{"title":null,"orient":"none","legendX":500,"legendY":10,"padding":0,"labelAlign":"right","labelOffset":-40,"labelFontSize":14,"labelLimit":400,"symbolSize":183,"symbolStrokeWidth":1,"rowPadding":3.7,
"labelExpr":"['London P=1,21.10\u2077; k=1,0','Paris P=1,14.10\u2077; k=1,0','Warsaw P=2,67.10\u2076; k=2,1','Budapest P=2,42.10\u2076; k=2,2','Lisbon P=2,42.10\u2076; k=2,2','Tallinn P=5,16.10\u2075; k=4,8','Ljubljana P=4,73.10\u2075; k=5,0','Luxembourg P=4,52.10\u2075; k=5,2'][indexof(['Lon','Par','War','Bud','Lis','Tal','Lju','Lux'],datum.label)]"}},
"fill":{"field":"c","type":"nominal","scale":{"domain":["Lon","Par","War","Bud","Lis","Tal","Lju","Lux"],"range":["transparent","transparent","transparent","transparent","#F0E442","transparent","#E51E10","transparent"]}},
"shape":{"field":"c","type":"nominal","scale":{"domain":["Lon","Par","War","Bud","Lis","Tal","Lju","Lux"],"range":["M-3.4,0H3.4M0,-0.45V0.45","M-3.4,0H3.4M-0.4,-0.4L0.4,0.4M-0.4,0.4L0.4,-0.4","M-3.4,0H3.4M0,-0.45V0.45M-0.35,-0.35L0.35,0.35M-0.35,0.35L0.35,-0.35","M-3.4,0H3.4M-0.45,-0.45H0.45V0.45H-0.45Z","M-3.4,0H3.4M-0.45,-0.45H0.45V0.45H-0.45Z","M-3.4,0H3.4M0.42,0A0.42,0.42,0,1,1,-0.42,0A0.42,0.42,0,1,1,0.42,0Z","M-3.4,0H3.4M0.5,0A0.5,0.5,0,1,1,-0.5,0A0.5,0.5,0,1,1,0.5,0Z","M-3.4,0H3.4M0,-0.5L0.45,0.3H-0.45Z"]}}
}},
{"transform":[{"filter":"datum.c=='Lon'"}],"mark":{"type":"line","color":"#9400D3","strokeWidth":1,"clip":true,"point":{"shape":"M-1,0H1M0,-1V1","size":49,"filled":false,"color":"#9400D3","strokeWidth":1}},
"encoding":{"x":{"field":"x","type":"quantitative","scale":{"domain":[0,50],"nice":false},"axis":{"orient":"top","values":[0,10,20,30,40,50],"labels":false,"title":null,"grid":false,"domain":false,"tickSize":-7,"tickColor":"#444"}},
"y":{"field":"y","type":"quantitative","scale":{"domain":[0,1],"nice":false},"axis":{"orient":"right","values":[0,0.2,0.4,0.6,0.8,1],"labels":false,"title":null,"grid":false,"domain":false,"tickSize":-7,"tickColor":"#444"}}}},
{"transform":[{"filter":"datum.c=='Par'"}],"mark":{"type":"line","color":"#009E73","strokeWidth":1,"clip":true,"point":{"shape":"M-1,-1L1,1M-1,1L1,-1","size":30,"filled":false,"color":"#009E73","strokeWidth":1}}},
{"transform":[{"filter":"datum.c=='War'"}],"mark":{"type":"line","color":"#56B4E9","strokeWidth":1,"clip":true,"point":{"shape":"M0,-1V1M-1,0H1M-0.7,-0.7L0.7,0.7M-0.7,0.7L0.7,-0.7","size":42,"filled":false,"color":"#56B4E9","strokeWidth":1}}},
{"transform":[{"filter":"datum.c=='Bud'"}],"mark":{"type":"line","color":"#E69F00","strokeWidth":1,"clip":true,"point":{"shape":"square","size":42,"filled":false,"color":"#E69F00","strokeWidth":1}}},
{"transform":[{"filter":"datum.c=='Lis'"}],"mark":{"type":"line","color":"#F0E442","strokeWidth":1,"clip":true,"point":{"shape":"square","size":50,"filled":true,"color":"#F0E442","opacity":1}}},
{"transform":[{"filter":"datum.c=='Tal'"}],"mark":{"type":"line","color":"#0072B2","strokeWidth":1,"clip":true,"point":{"shape":"circle","size":36,"filled":false,"color":"#0072B2","strokeWidth":1}}},
{"transform":[{"filter":"datum.c=='Lju'"}],"mark":{"type":"line","color":"#E51E10","strokeWidth":1,"clip":true,"point":{"shape":"circle","size":50,"filled":true,"color":"#E51E10","opacity":1}}},
{"transform":[{"filter":"datum.c=='Lux'"}],"mark":{"type":"line","color":"#000000","strokeWidth":1,"clip":true,"point":{"shape":"triangle-up","size":40,"filled":false,"color":"#000000","strokeWidth":1}}}
],
"resolve":{"axis":{"x":"independent","y":"independent"}}
}
],
"resolve":{"scale":{"stroke":"independent","fill":"independent","shape":"independent"},"legend":{"stroke":"independent","fill":"independent","shape":"independent"}},
"config":{
"font":"DejaVu Sans",
"view":{"stroke":"#444","strokeWidth":1},
"title":{"fontSize":16.5,"fontWeight":"normal","color":"#111","font":"DejaVu Sans"},
"axis":{"labelFont":"DejaVu Sans","titleFont":"DejaVu Sans","labelFontSize":16,"titleFontSize":16,"titleFontWeight":"normal","labelColor":"#111","titleColor":"#111"},
"legend":{"labelFont":"DejaVu Sans","labelColor":"#111"}
}
}
